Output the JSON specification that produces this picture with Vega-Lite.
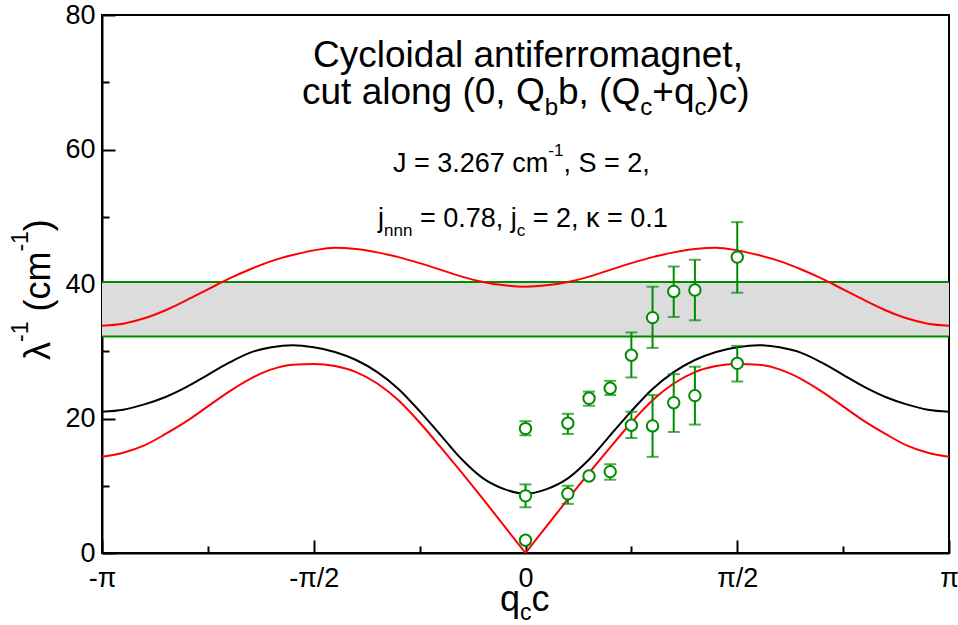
{
  "$schema": "https://vega.github.io/schema/vega-lite/v6.json",
  "width": 847,
  "height": 538,
  "autosize": {"type": "none"},
  "padding": {"left": 102, "top": 15, "right": 9, "bottom": 72},
  "background": "white",
  "config": {
    "view": {"stroke": "black", "strokeWidth": 2},
    "font": "Liberation Sans",
    "text": {"font": "Liberation Sans", "color": "black", "baseline": "alphabetic", "align": "left"}
  },
  "datasets": {
    "curves": [
      {"c": "upper", "x": -1, "y": 33.8}, {"c": "upper", "x": -0.95, "y": 34.1}, {"c": "upper", "x": -0.9, "y": 34.9}, {"c": "upper", "x": -0.85, "y": 36.1}, {"c": "upper", "x": -0.8, "y": 37.6}, {"c": "upper", "x": -0.75, "y": 39.2}, {"c": "upper", "x": -0.7, "y": 40.8}, {"c": "upper", "x": -0.65, "y": 42.2}, {"c": "upper", "x": -0.6, "y": 43.4}, {"c": "upper", "x": -0.55, "y": 44.3}, {"c": "upper", "x": -0.5, "y": 45.0}, {"c": "upper", "x": -0.45, "y": 45.4}, {"c": "upper", "x": -0.4, "y": 45.2}, {"c": "upper", "x": -0.35, "y": 44.7}, {"c": "upper", "x": -0.3, "y": 44.0}, {"c": "upper", "x": -0.25, "y": 43.1}, {"c": "upper", "x": -0.2, "y": 42.1}, {"c": "upper", "x": -0.15, "y": 41.1}, {"c": "upper", "x": -0.1, "y": 40.3}, {"c": "upper", "x": -0.05, "y": 39.8},
      {"c": "upper", "x": 0, "y": 39.6},
      {"c": "upper", "x": 0.05, "y": 39.8}, {"c": "upper", "x": 0.1, "y": 40.3}, {"c": "upper", "x": 0.15, "y": 41.1}, {"c": "upper", "x": 0.2, "y": 42.1}, {"c": "upper", "x": 0.25, "y": 43.1}, {"c": "upper", "x": 0.3, "y": 44.0}, {"c": "upper", "x": 0.35, "y": 44.7}, {"c": "upper", "x": 0.4, "y": 45.2}, {"c": "upper", "x": 0.45, "y": 45.4}, {"c": "upper", "x": 0.5, "y": 45.0}, {"c": "upper", "x": 0.55, "y": 44.3}, {"c": "upper", "x": 0.6, "y": 43.4}, {"c": "upper", "x": 0.65, "y": 42.2}, {"c": "upper", "x": 0.7, "y": 40.8}, {"c": "upper", "x": 0.75, "y": 39.2}, {"c": "upper", "x": 0.8, "y": 37.6}, {"c": "upper", "x": 0.85, "y": 36.1}, {"c": "upper", "x": 0.9, "y": 34.9}, {"c": "upper", "x": 0.95, "y": 34.1}, {"c": "upper", "x": 1, "y": 33.8},

      {"c": "black", "x": -1, "y": 21.0}, {"c": "black", "x": -0.95, "y": 21.3}, {"c": "black", "x": -0.9, "y": 22.1}, {"c": "black", "x": -0.85, "y": 23.2}, {"c": "black", "x": -0.8, "y": 24.7}, {"c": "black", "x": -0.75, "y": 26.5}, {"c": "black", "x": -0.7, "y": 28.3}, {"c": "black", "x": -0.65, "y": 29.8}, {"c": "black", "x": -0.6, "y": 30.6}, {"c": "black", "x": -0.55, "y": 30.9}, {"c": "black", "x": -0.5, "y": 30.6}, {"c": "black", "x": -0.45, "y": 29.9}, {"c": "black", "x": -0.4, "y": 28.7}, {"c": "black", "x": -0.35, "y": 26.9}, {"c": "black", "x": -0.3, "y": 24.4}, {"c": "black", "x": -0.25, "y": 21.1}, {"c": "black", "x": -0.2, "y": 17.5}, {"c": "black", "x": -0.15, "y": 13.9}, {"c": "black", "x": -0.1, "y": 11.1}, {"c": "black", "x": -0.05, "y": 9.5},
      {"c": "black", "x": 0, "y": 8.8},
      {"c": "black", "x": 0.05, "y": 9.5}, {"c": "black", "x": 0.1, "y": 11.1}, {"c": "black", "x": 0.15, "y": 13.9}, {"c": "black", "x": 0.2, "y": 17.5}, {"c": "black", "x": 0.25, "y": 21.1}, {"c": "black", "x": 0.3, "y": 24.4}, {"c": "black", "x": 0.35, "y": 26.9}, {"c": "black", "x": 0.4, "y": 28.7}, {"c": "black", "x": 0.45, "y": 29.9}, {"c": "black", "x": 0.5, "y": 30.6}, {"c": "black", "x": 0.55, "y": 30.9}, {"c": "black", "x": 0.6, "y": 30.6}, {"c": "black", "x": 0.65, "y": 29.8}, {"c": "black", "x": 0.7, "y": 28.3}, {"c": "black", "x": 0.75, "y": 26.5}, {"c": "black", "x": 0.8, "y": 24.7}, {"c": "black", "x": 0.85, "y": 23.2}, {"c": "black", "x": 0.9, "y": 22.1}, {"c": "black", "x": 0.95, "y": 21.3}, {"c": "black", "x": 1, "y": 21.0},

      {"c": "lowL", "x": -1, "y": 14.3}, {"c": "lowL", "x": -0.95, "y": 14.9}, {"c": "lowL", "x": -0.9, "y": 16.0}, {"c": "lowL", "x": -0.85, "y": 17.7}, {"c": "lowL", "x": -0.8, "y": 19.6}, {"c": "lowL", "x": -0.75, "y": 21.8}, {"c": "lowL", "x": -0.7, "y": 24.0}, {"c": "lowL", "x": -0.65, "y": 25.9}, {"c": "lowL", "x": -0.6, "y": 27.3}, {"c": "lowL", "x": -0.55, "y": 28.0}, {"c": "lowL", "x": -0.5, "y": 28.1}, {"c": "lowL", "x": -0.45, "y": 27.8}, {"c": "lowL", "x": -0.4, "y": 26.9}, {"c": "lowL", "x": -0.35, "y": 25.2}, {"c": "lowL", "x": -0.3, "y": 22.7}, {"c": "lowL", "x": -0.25, "y": 19.4}, {"c": "lowL", "x": -0.2, "y": 15.7}, {"c": "lowL", "x": -0.15, "y": 11.9}, {"c": "lowL", "x": -0.1, "y": 8.0}, {"c": "lowL", "x": -0.05, "y": 4.0}, {"c": "lowL", "x": 0, "y": 0},

      {"c": "lowR", "x": 0, "y": 0}, {"c": "lowR", "x": 0.05, "y": 4.0}, {"c": "lowR", "x": 0.1, "y": 8.0}, {"c": "lowR", "x": 0.15, "y": 11.9}, {"c": "lowR", "x": 0.2, "y": 15.7}, {"c": "lowR", "x": 0.25, "y": 19.4}, {"c": "lowR", "x": 0.3, "y": 22.7}, {"c": "lowR", "x": 0.35, "y": 25.2}, {"c": "lowR", "x": 0.4, "y": 26.9}, {"c": "lowR", "x": 0.45, "y": 27.8}, {"c": "lowR", "x": 0.5, "y": 28.1}, {"c": "lowR", "x": 0.55, "y": 28.0}, {"c": "lowR", "x": 0.6, "y": 27.3}, {"c": "lowR", "x": 0.65, "y": 25.9}, {"c": "lowR", "x": 0.7, "y": 24.0}, {"c": "lowR", "x": 0.75, "y": 21.8}, {"c": "lowR", "x": 0.8, "y": 19.6}, {"c": "lowR", "x": 0.85, "y": 17.7}, {"c": "lowR", "x": 0.9, "y": 16.0}, {"c": "lowR", "x": 0.95, "y": 14.9}, {"c": "lowR", "x": 1, "y": 14.3}
    ],
    "points": [
      {"x": 0, "y": 1.9},
      {"x": 0, "y": 8.5, "lo": 6.8, "hi": 10.2},
      {"x": 0, "y": 18.5, "lo": 17.5, "hi": 19.6},
      {"x": 0.1, "y": 8.8, "lo": 7.3, "hi": 10.0},
      {"x": 0.1, "y": 19.3, "lo": 17.7, "hi": 20.7},
      {"x": 0.15, "y": 11.45},
      {"x": 0.15, "y": 23.0, "lo": 21.9, "hi": 24.0},
      {"x": 0.2, "y": 12.1, "lo": 10.9, "hi": 13.2},
      {"x": 0.2, "y": 24.5, "lo": 23.5, "hi": 25.6},
      {"x": 0.25, "y": 19.0, "lo": 17.1, "hi": 21.0},
      {"x": 0.25, "y": 29.4, "lo": 26.1, "hi": 32.8},
      {"x": 0.3, "y": 18.9, "lo": 14.3, "hi": 23.5},
      {"x": 0.3, "y": 35.0, "lo": 30.5, "hi": 39.6},
      {"x": 0.35, "y": 22.35, "lo": 18.0, "hi": 26.6},
      {"x": 0.35, "y": 38.9, "lo": 35.1, "hi": 42.6},
      {"x": 0.4, "y": 23.4, "lo": 19.1, "hi": 27.7},
      {"x": 0.4, "y": 39.1, "lo": 34.6, "hi": 43.6},
      {"x": 0.5, "y": 28.2, "lo": 25.5, "hi": 30.8},
      {"x": 0.5, "y": 44.0, "lo": 38.7, "hi": 49.2}
    ],
    "band": [{"lo": 32.2, "hi": 40.3}]
  },
  "layer": [
    {
      "data": {"name": "band"},
      "mark": {"type": "rect", "color": "#dcdcdc"},
      "encoding": {
        "x": {"datum": -1, "type": "quantitative",
          "scale": {"domain": [-1, 1], "nice": false, "zero": false},
          "axis": {
            "values": [-1, -0.75, -0.5, -0.25, 0, 0.25, 0.5, 0.75, 1],
            "labelExpr": "datum.value == -1 ? '-π' : datum.value == -0.5 ? '-π/2' : datum.value == 0 ? '0' : datum.value == 0.5 ? 'π/2' : datum.value == 1 ? 'π' : ''",
            "title": null, "grid": false,
            "domainColor": "black", "domainWidth": 2,
            "tickColor": "black", "tickWidth": 2,
            "tickSize": {"condition": {"test": "abs(datum.value * 2 - round(datum.value * 2)) < 0.001", "value": -13}, "value": -7},
            "labelFont": "Liberation Sans", "labelFontSize": 27, "labelColor": "black",
            "labelPadding": 25, "labelFlush": false, "labelOverlap": false, "labelBound": false
          }
        },
        "x2": {"datum": 1},
        "y": {"field": "lo", "type": "quantitative",
          "scale": {"domain": [0, 80], "nice": false, "zero": false},
          "axis": {
            "values": [0, 10, 20, 30, 40, 50, 60, 70, 80],
            "labelExpr": "datum.value % 20 === 0 ? datum.label : ''",
            "title": null, "grid": false,
            "domainColor": "black", "domainWidth": 2,
            "tickColor": "black", "tickWidth": 2,
            "tickSize": {"condition": {"test": "datum.value % 20 === 0", "value": -13}, "value": -7},
            "labelFont": "Liberation Sans", "labelFontSize": 27, "labelColor": "black",
            "labelPadding": 20, "labelFlush": false, "labelOverlap": false, "labelBound": false
          }
        },
        "y2": {"field": "hi"}
      }
    },
    {
      "data": {"name": "band"},
      "mark": {"type": "rule", "color": "#008b00", "strokeWidth": 2},
      "encoding": {"y": {"field": "lo", "type": "quantitative"}}
    },
    {
      "data": {"name": "band"},
      "mark": {"type": "rule", "color": "#008b00", "strokeWidth": 2},
      "encoding": {"y": {"field": "hi", "type": "quantitative"}}
    },
    {
      "data": {"name": "curves"},
      "mark": {"type": "line", "interpolate": "monotone", "strokeWidth": 2},
      "encoding": {
        "x": {"field": "x", "type": "quantitative"},
        "y": {"field": "y", "type": "quantitative"},
        "color": {"field": "c", "type": "nominal", "legend": null,
          "scale": {"domain": ["upper", "black", "lowL", "lowR"], "range": ["#ff0000", "#000000", "#ff0000", "#ff0000"]}}
      }
    },
    {
      "data": {"name": "points"},
      "transform": [{"filter": "isValid(datum.lo)"}],
      "mark": {"type": "rule", "color": "#008b00", "strokeWidth": 2},
      "encoding": {
        "x": {"field": "x", "type": "quantitative"},
        "y": {"field": "lo", "type": "quantitative"},
        "y2": {"field": "hi"}
      }
    },
    {
      "data": {"name": "points"},
      "transform": [{"filter": "isValid(datum.lo)"}],
      "mark": {"type": "tick", "orient": "horizontal", "color": "#008b00", "size": 12, "thickness": 2},
      "encoding": {
        "x": {"field": "x", "type": "quantitative"},
        "y": {"field": "lo", "type": "quantitative"}
      }
    },
    {
      "data": {"name": "points"},
      "transform": [{"filter": "isValid(datum.hi)"}],
      "mark": {"type": "tick", "orient": "horizontal", "color": "#008b00", "size": 12, "thickness": 2},
      "encoding": {
        "x": {"field": "x", "type": "quantitative"},
        "y": {"field": "hi", "type": "quantitative"}
      }
    },
    {
      "data": {"name": "points"},
      "mark": {"type": "point", "shape": "circle", "filled": false, "fill": "white", "fillOpacity": 1, "stroke": "#008b00", "strokeWidth": 2, "size": 130, "opacity": 1},
      "encoding": {
        "x": {"field": "x", "type": "quantitative"},
        "y": {"field": "y", "type": "quantitative"}
      }
    },
    {"data": {"values": [{}]}, "mark": {"type": "text", "text": "Cycloidal antiferromagnet,", "fontSize": 37, "align": "center"}, "encoding": {"x": {"datum": 0.0059}, "y": {"datum": 72.22}}},
    {"data": {"values": [{}]}, "mark": {"type": "text", "text": "cut along (0, Q", "fontSize": 37}, "encoding": {"x": {"datum": -0.5277}, "y": {"datum": 66.77}}},
    {"data": {"values": [{}]}, "mark": {"type": "text", "text": "b", "fontSize": 24}, "encoding": {"x": {"datum": 0.0453}, "y": {"datum": 65.13}}},
    {"data": {"values": [{}]}, "mark": {"type": "text", "text": "b, (Q", "fontSize": 37}, "encoding": {"x": {"datum": 0.0767}, "y": {"datum": 66.77}}},
    {"data": {"values": [{}]}, "mark": {"type": "text", "text": "c", "fontSize": 24}, "encoding": {"x": {"datum": 0.2711}, "y": {"datum": 65.13}}},
    {"data": {"values": [{}]}, "mark": {"type": "text", "text": "+q", "fontSize": 37}, "encoding": {"x": {"datum": 0.2994}, "y": {"datum": 66.77}}},
    {"data": {"values": [{}]}, "mark": {"type": "text", "text": "c", "fontSize": 24}, "encoding": {"x": {"datum": 0.3991}, "y": {"datum": 65.13}}},
    {"data": {"values": [{}]}, "mark": {"type": "text", "text": ")c)", "fontSize": 37}, "encoding": {"x": {"datum": 0.4274}, "y": {"datum": 66.77}}},
    {"data": {"values": [{}]}, "mark": {"type": "text", "text": "J = 3.267 cm", "fontSize": 27}, "encoding": {"x": {"datum": -0.3129}, "y": {"datum": 56.70}}},
    {"data": {"values": [{}]}, "mark": {"type": "text", "text": "-1", "fontSize": 17}, "encoding": {"x": {"datum": 0.0538}, "y": {"datum": 59.03}}},
    {"data": {"values": [{}]}, "mark": {"type": "text", "text": ", S = 2,", "fontSize": 27}, "encoding": {"x": {"datum": 0.0895}, "y": {"datum": 56.70}}},
    {"data": {"values": [{}]}, "mark": {"type": "text", "text": "j", "fontSize": 27}, "encoding": {"x": {"datum": -0.3483}, "y": {"datum": 48.52}}},
    {"data": {"values": [{}]}, "mark": {"type": "text", "text": "nnn", "fontSize": 17}, "encoding": {"x": {"datum": -0.3341}, "y": {"datum": 47.14}}},
    {"data": {"values": [{}]}, "mark": {"type": "text", "text": "= 0.78, j", "fontSize": 27}, "encoding": {"x": {"datum": -0.2494}, "y": {"datum": 48.52}}},
    {"data": {"values": [{}]}, "mark": {"type": "text", "text": "c", "fontSize": 17}, "encoding": {"x": {"datum": -0.0208}, "y": {"datum": 47.14}}},
    {"data": {"values": [{}]}, "mark": {"type": "text", "text": "= 2, κ = 0.1", "fontSize": 27}, "encoding": {"x": {"datum": 0.0170}, "y": {"datum": 48.52}}},
    {"data": {"values": [{}]}, "mark": {"type": "text", "text": "λ", "fontSize": 36, "angle": 270}, "encoding": {"x": {"datum": -1.1228}, "y": {"datum": 28.70}}},
    {"data": {"values": [{}]}, "mark": {"type": "text", "text": "-1", "fontSize": 23, "angle": 270}, "encoding": {"x": {"datum": -1.1747}, "y": {"datum": 31.38}}},
    {"data": {"values": [{}]}, "mark": {"type": "text", "text": "(cm", "fontSize": 36, "angle": 270}, "encoding": {"x": {"datum": -1.1228}, "y": {"datum": 35.90}}},
    {"data": {"values": [{}]}, "mark": {"type": "text", "text": "-1", "fontSize": 23, "angle": 270}, "encoding": {"x": {"datum": -1.1747}, "y": {"datum": 44.82}}},
    {"data": {"values": [{}]}, "mark": {"type": "text", "text": ")", "fontSize": 36, "angle": 270}, "encoding": {"x": {"datum": -1.1228}, "y": {"datum": 47.85}}},
    {"data": {"values": [{}]}, "mark": {"type": "text", "text": "q", "fontSize": 36}, "encoding": {"x": {"datum": -0.0602}, "y": {"datum": -8.6}}},
    {"data": {"values": [{}]}, "mark": {"type": "text", "text": "c", "fontSize": 23}, "encoding": {"x": {"datum": -0.0130}, "y": {"datum": -9.9}}},
    {"data": {"values": [{}]}, "mark": {"type": "text", "text": "c", "fontSize": 36}, "encoding": {"x": {"datum": 0.0142}, "y": {"datum": -8.6}}}
  ]
}
